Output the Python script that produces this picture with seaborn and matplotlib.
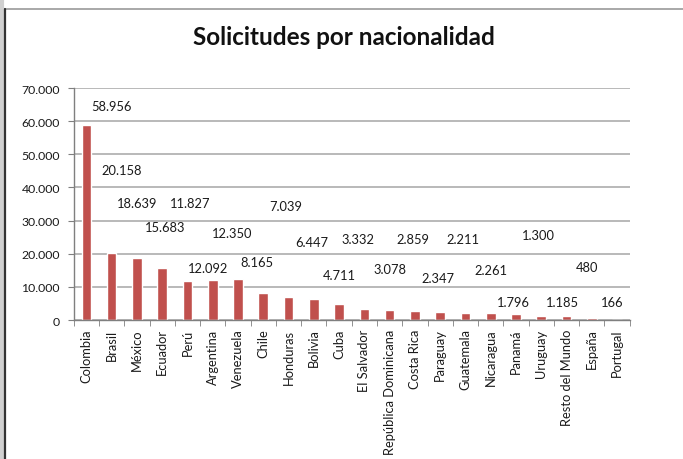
import matplotlib
matplotlib.use("Agg")
import matplotlib.pyplot as plt
from matplotlib.lines import Line2D
import seaborn as sns

# data
paises = ["Colombia", "Brasil", "México", "Ecuador", "Perú", "Argentina", "Venezuela",
          "Chile", "Honduras", "Bolivia", "Cuba", "El Salvador", "República Dominicana",
          "Costa Rica", "Paraguay", "Guatemala", "Nicaragua", "Panamá", "Uruguay",
          "Resto del Mundo", "España", "Portugal"]
solicitudes = [58956, 20158, 18639, 15683, 11827, 12092, 12350, 8165, 7039, 6447, 4711,
               3332, 3078, 2859, 2347, 2211, 2261, 1796, 1300, 1185, 480, 166]

# where the data labels sit in the original (scattered, Excel style)
label_y = [64600, 45400, 35300, 28000, 35300, 15700, 26200, 17500, 34500, 23500, 13600,
           24400, 15400, 24400, 12700, 24400, 15100, 5400, 25600, 5400, 16000, 5400]
label_dx = [1.0, 0.4, 0.0, 0.1, 0.1, -0.2, -0.25, -0.25, -0.1, -0.1, 0.0,
            -0.25, 0.0, -0.1, -0.1, -0.1, 0.0, -0.1, -0.1, -0.15, -0.2, -0.2]

y_ticks = list(range(0, 70001, 10000))

sns.set_style("white")
plt.rcParams["font.family"] = ["Lato", "DejaVu Sans"]

fig = plt.figure(figsize=(6.83, 4.6), dpi=100)
ax = fig.add_axes([0.108, 0.302, 0.814, 0.5045])

sns.barplot(x=paises, y=solicitudes, color="#C0504D", saturation=1, width=0.38, ax=ax)

def miles(v):
    return f"{v:,}".replace(",", ".")

for i, (v, ly, dx) in enumerate(zip(solicitudes, label_y, label_dx)):
    ax.text(i + dx, ly, miles(v), ha="center", va="center", fontsize=9.3, color="#1a1a1a")

ax.set_xlim(-0.5, len(paises) - 0.5)
ax.set_ylim(0, 70000)
ax.set_yticks(y_ticks)
ax.set_yticklabels([miles(t) for t in y_ticks], fontsize=8.8, color="#1a1a1a")
ax.yaxis.grid(True, color="#a6a6a6", linewidth=1.1)
ax.set_axisbelow(True)
ax.tick_params(axis="y", length=4, color="#7f7f7f", pad=6, left=True)
ax.set_xticks(range(len(paises)))
ax.set_xticklabels(paises, rotation=90, fontsize=9.3, color="#1a1a1a")
ax.set_xticks([i + 0.5 for i in range(-1, len(paises))], minor=True)
ax.tick_params(axis="x", which="major", length=0, pad=6)
ax.tick_params(axis="x", which="minor", length=4, color="#7f7f7f", bottom=True)
ax.set_xlabel("")
ax.set_ylabel("")

for s in ["top", "right"]:
    ax.spines[s].set_visible(False)
for s in ["left", "bottom"]:
    ax.spines[s].set_color("#7f7f7f")
    ax.spines[s].set_linewidth(1)

fig.text(0.503, 0.918, "Solicitudes por nacionalidad", ha="center", va="center",
         fontsize=17.5, fontweight="bold", color="#111111")

# screenshot frame edges
fig.add_artist(Line2D([0.0, 1.0], [0.979, 0.979], color="#9a9a9a", linewidth=1.2))
fig.add_artist(Line2D([0.003, 0.003], [0.0, 1.0], color="#d0d0d0", linewidth=3))
fig.add_artist(Line2D([0.0075, 0.0075], [0.0, 0.979], color="#333333", linewidth=1.6))

fig.savefig("out.png", dpi=100)
